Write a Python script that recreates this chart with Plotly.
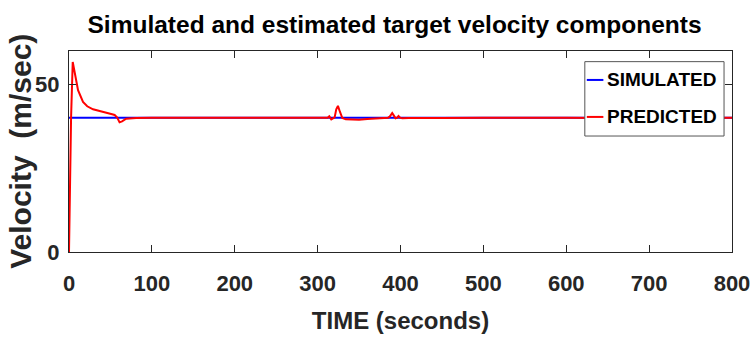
import plotly.graph_objects as go

# Data
sim_time = [0, 800]
sim_vel = [40.05, 40.05]

pred_time = [0, 2.5, 4.5, 7, 10.9, 16.9, 22, 29, 37, 45, 52, 55, 58, 61, 64, 69, 75, 81,
             100, 150, 200, 250, 300, 312, 314, 316.5, 318, 320.5, 322.5, 324.5, 327, 329.8,
             334, 340, 350, 360, 370, 380, 385, 387, 390, 392, 394, 396, 397.6, 399.5, 402,
             410, 430, 450, 500, 550, 600, 650, 700, 750, 800]
pred_vel = [0, 40, 56.7, 53, 48.3, 44.8, 43.5, 42.6, 42, 41.5, 41.1, 40.9, 40.2, 38.7, 39.0,
            39.8, 40.0, 40.0, 40.1, 40.1, 40.1, 40.1, 40.1, 40.1, 40.5, 39.6, 39.8, 40.2,
            42.6, 43.6, 41.8, 40.0, 39.6, 39.5, 39.5, 39.7, 39.9, 40.0, 40.1, 40.4, 41.5, 40.7,
            39.9, 40.1, 40.6, 40.1, 39.9, 40.0, 40.1, 40.0, 40.1, 40.2, 40.1, 40.0, 40.0,
            40.1, 40.1]

series_names = ["SIMULATED", "PREDICTED"]
series_colors = ["#0000ff", "#ff0000"]

x_ticks = [0, 100, 200, 300, 400, 500, 600, 700, 800]
y_ticks = [0, 50]

FONT = "Liberation Sans, Arial, sans-serif"
AX = "#262626"

fig = go.Figure()
fig.add_trace(go.Scatter(x=sim_time, y=sim_vel, mode="lines", name=series_names[0],
                         line=dict(color=series_colors[0], width=2), showlegend=False))
fig.add_trace(go.Scatter(x=pred_time, y=pred_vel, mode="lines", name=series_names[1],
                         line=dict(color=series_colors[1], width=2), showlegend=False))

fig.update_layout(
    width=752, height=345,
    margin=dict(l=69, r=20, t=51, b=93, autoexpand=False),
    paper_bgcolor="white", plot_bgcolor="white",
    title=dict(text="Simulated and estimated target velocity components",
               font=dict(family=FONT, size=24.5, color="black", weight="bold"),
               x=0.491, xref="paper", xanchor="center",
               y=1 - 24 / 345, yref="container", yanchor="middle"),
    showlegend=False,
    xaxis=dict(range=[0, 800], tickvals=x_ticks, ticks="inside", ticklen=7,
               tickcolor=AX, showline=True, linecolor=AX, linewidth=1, mirror="ticks",
               showgrid=False, zeroline=False, ticklabelstandoff=12,
               tickfont=dict(family=FONT, size=22, color=AX, weight="bold"),
               title=dict(text="TIME (seconds)", standoff=16,
                          font=dict(family=FONT, size=24, color=AX, weight="bold"))),
    yaxis=dict(range=[0, 60], tickvals=y_ticks, ticks="inside", ticklen=7,
               tickcolor=AX, showline=True, linecolor=AX, linewidth=1, mirror="ticks",
               showgrid=False, zeroline=False, ticklabelstandoff=4,
               tickfont=dict(family=FONT, size=22, color=AX, weight="bold")),
)

fig.add_annotation(text="Velocity  (m/sec)", textangle=-90, xref="paper", yref="paper",
                   x=-0.0735, y=0.5, xanchor="center", yanchor="middle", showarrow=False,
                   font=dict(family=FONT, size=30, color=AX, weight="bold"))

# Legend box (drawn manually so row spacing matches)
fig.add_shape(type="rect", xref="paper", yref="paper", x0=0.778, x1=0.988, y0=0.577, y1=0.947,
              fillcolor="white", line=dict(color="#555555", width=1), layer="above")
row_y = [0.856, 0.672]
for name, color, ry in zip(series_names, series_colors, row_y):
    fig.add_shape(type="line", xref="paper", yref="paper", x0=0.781, x1=0.806, y0=ry, y1=ry,
                  line=dict(color=color, width=2), layer="above")
    fig.add_annotation(text=name, xref="paper", yref="paper", x=0.809, y=ry,
                       xanchor="left", yanchor="middle", showarrow=False,
                       font=dict(family=FONT, size=19, color="black", weight="bold"))

fig.write_html("out.html")
